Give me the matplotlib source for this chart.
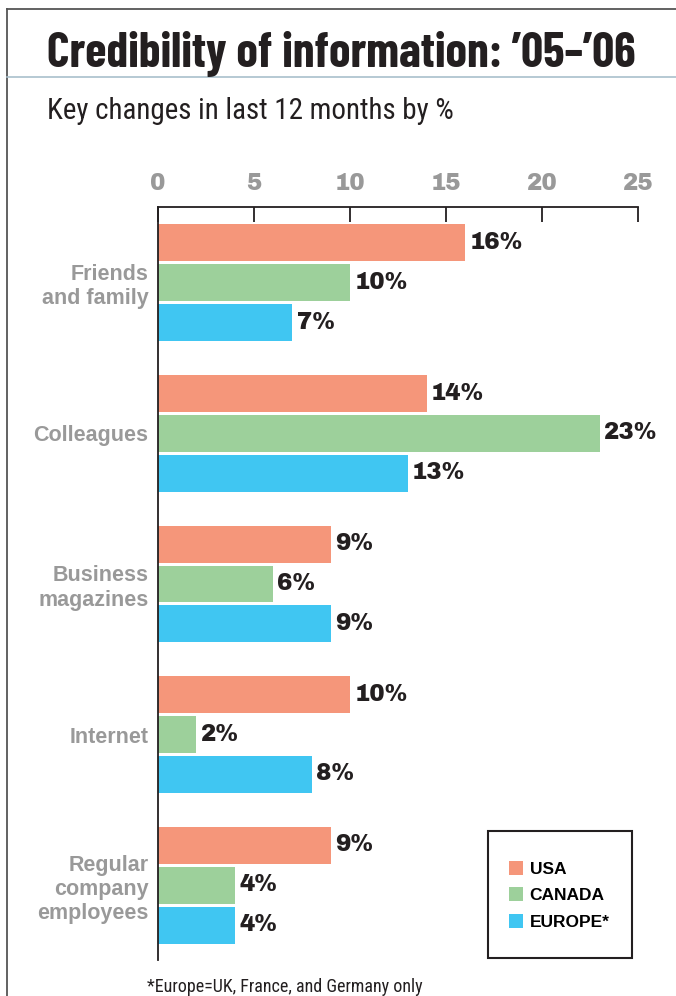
import matplotlib.pyplot as plt
from matplotlib import font_manager as fm
from matplotlib.lines import Line2D
from matplotlib.patches import Rectangle

categories = ["Friends\nand family", "Colleagues", "Business\nmagazines",
              "Internet", "Regular\ncompany\nemployees"]
series = ["USA", "CANADA", "EUROPE*"]
usa = [16, 14, 9, 10, 9]
canada = [10, 23, 6, 2, 4]
europe = [7, 13, 9, 8, 4]
ticks = [0, 5, 10, 15, 20, 25]

colors = ["#F5967A", "#9DD09B", "#40C6F2"]
GRAY = "#999999"
INK = "#231F20"
W, H = 676, 996

installed = {f.name for f in fm.fontManager.ttflist}


def pick(*fams):
    for f in fams:
        if f in installed:
            return f
    return "DejaVu Sans"


TITLE_FONT = pick("Barlow Condensed", "Roboto Condensed", "DejaVu Sans")
SUB_FONT = pick("Roboto Condensed", "Archivo Narrow", "Liberation Sans")
BOLD_FONT = pick("Liberation Sans", "DejaVu Sans")
HEAVY_FONT = pick("Archivo Black", "Liberation Sans")

fig = plt.figure(figsize=(W / 100, H / 100), dpi=100)
renderer = fig.canvas.get_renderer()


def fit_width(t, width_px):
    # scale a text so its drawn width matches the reference
    w = t.get_window_extent(renderer).width
    t.set_fontsize(t.get_fontsize() * width_px / w)


# frame lines + title rule
fig.add_artist(Line2D([7 / W, 1], [1 - 9 / H, 1 - 9 / H], color="#555555", lw=1.3))
fig.add_artist(Line2D([7 / W, 7 / W], [0, 1 - 9 / H], color="#555555", lw=1.3))
fig.add_artist(Line2D([7 / W, 1], [1 - 77 / H, 1 - 77 / H], color="#A9C0CC", lw=1.2))

title = fig.text(47 / W, 1 - 49 / H, "Credibility of information: \u201905\u2013\u201906",
                 family=TITLE_FONT, weight="bold", fontsize=40, va="center_baseline",
                 ha="left", color=INK)
fit_width(title, 589)
sub = fig.text(47 / W, 1 - 119 / H, "Key changes in last 12 months by %",
               family=SUB_FONT, fontsize=18, va="baseline", ha="left", color=INK)
fit_width(sub, 408)
foot = fig.text(147 / W, 1 - 992 / H, "*Europe=UK, France, and Germany only",
                family=SUB_FONT, fontsize=11, va="baseline", ha="left", color=INK)
fit_width(foot, 276)

ax = fig.add_axes([158 / W, 1 - 960 / H, (638 - 158) / W, (960 - 207) / H])

pitch = 1.0
bar_h = 0.925
group_step = 3.775
vals = [usa, canada, europe]
for s in range(3):
    ys = [i * group_step + s * pitch for i in range(len(categories))]
    ax.barh(ys, vals[s], height=bar_h, color=colors[s], label=series[s])
    for y, v in zip(ys, vals[s]):
        ax.text(v + 0.22, y, f"{v}%", va="center", ha="left", fontsize=16.5,
                family=HEAVY_FONT, color=INK)

ax.set_xlim(0, 25)
ax.set_ylim(4 * group_step + 2 + 0.875, -0.9)
ax.xaxis.tick_top()
ax.set_xticks(ticks)
ax.set_xticklabels([str(t) for t in ticks], fontsize=16.5, family=HEAVY_FONT,
                   color=GRAY)
ax.tick_params(axis="x", direction="in", length=11, width=1.3, pad=9, color=INK)

ax.set_yticks([i * group_step + 1 for i in range(len(categories))])
ax.set_yticklabels(categories, fontsize=15.5, fontweight="bold", color=GRAY,
                   family=BOLD_FONT, linespacing=1.2)
ax.tick_params(axis="y", length=0, pad=7)

ax.spines["right"].set_visible(False)
ax.spines["bottom"].set_visible(False)
for side in ["top", "left"]:
    ax.spines[side].set_linewidth(1.3)
    ax.spines[side].set_color(INK)

# legend box
fig.add_artist(Rectangle((488 / W, 1 - 958 / H), (632 - 488) / W, (958 - 831) / H,
                         transform=fig.transFigure, fill=False, edgecolor=INK, lw=1.5))
handles = [Line2D([], [], ls="none", marker="s", markersize=9.5, color=c,
                  markeredgewidth=0) for c in colors]
fig.legend(handles, series, loc="upper left",
           bbox_to_anchor=(508 / W, 1 - 862 / H), frameon=False,
           borderpad=0, handlelength=0.9, handletextpad=0.35,
           labelspacing=0.64, borderaxespad=0,
           prop={"family": BOLD_FONT, "weight": "bold", "size": 12.5})

fig.savefig("out.png", dpi=100)
